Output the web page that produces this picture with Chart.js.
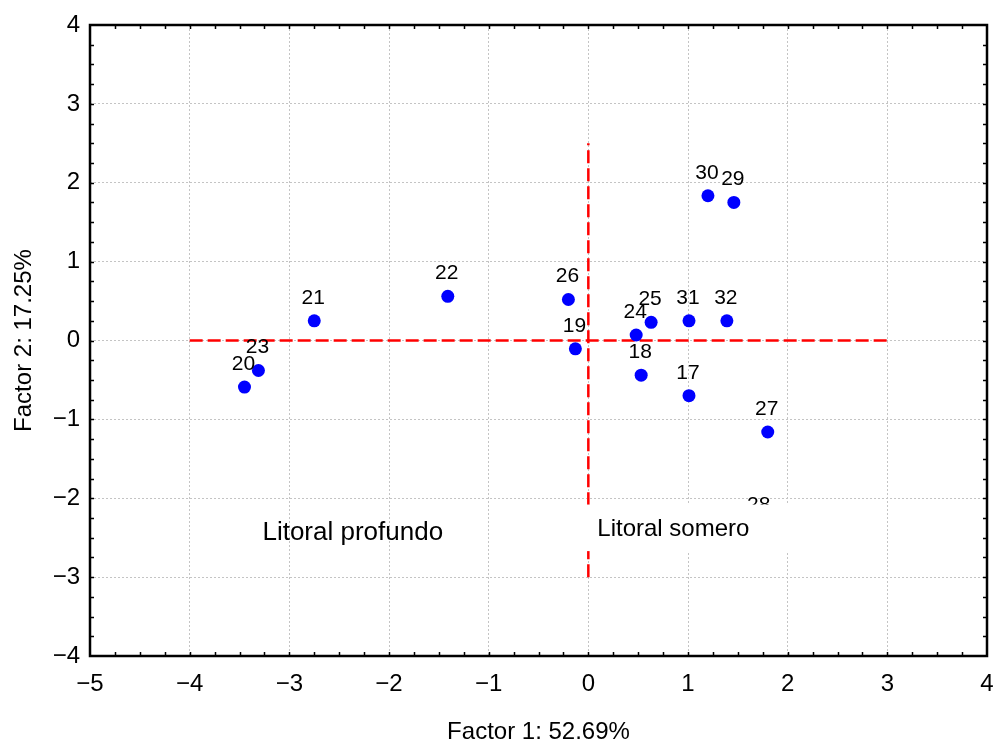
<!DOCTYPE html>
<html><head><meta charset="utf-8">
<script src="https://cdn.jsdelivr.net/npm/chart.js@4.4.1/dist/chart.umd.min.js"></script>
<style>html,body{margin:0;padding:0;background:#fff}#wrap{width:996px;height:744px;position:relative}</style>
</head><body><div id="wrap"><canvas id="c" width="996" height="744"></canvas></div>
<script>
// ---- data ----
const pointLabels = ['17','18','19','20','21','22','23','24','25','26','27','28','29','30','31','32'];
const factor1 = [1.01, 0.53, -0.13, -3.45, -2.75, -1.41, -3.31, 0.48, 0.63, -0.20, 1.80, 1.72, 1.46, 1.20, 1.01, 1.39];
const factor2 = [-0.70, -0.44, -0.105, -0.59, 0.25, 0.56, -0.38, 0.07, 0.23, 0.52, -1.16, -2.38, 1.75, 1.835, 0.25, 0.25];
const xTickValues = [-5, -4, -3, -2, -1, 0, 1, 2, 3, 4];
const xTickLabels = ['−5', '−4', '−3', '−2', '−1', '0', '1', '2', '3', '4'];
const yTickValues = [-4, -3, -2, -1, 0, 1, 2, 3, 4];
const yTickLabels = ['−4', '−3', '−2', '−1', '0', '1', '2', '3', '4'];
const hLineX = [-4, 3];
const hLineY = [0, 0];
const vLineX = [0, 0];
const vLineY = [-3, 2.5];
const xTitle = 'Factor 1: 52.69%';
const yTitle = 'Factor 2: 17.25%';
const regionNames = ['Litoral profundo', 'Litoral somero'];

// ---- styling / annotation config ----
const FONT = "'Liberation Sans', Arial, sans-serif";
const annot = {
  profundo: {x: -3.27, y: -2.53, size: 26},
  somero: {x: 0.09, y: -2.48, size: 24, box: {x1: -0.06, x2: 2.07, y1: -2.08, y2: -2.67}}
};

const pts = factor1.map((x, i) => ({x: x, y: factor2[i]}));
const hLine = hLineX.map((x, i) => ({x: x, y: hLineY[i]}));
const vLine = vLineX.map((x, i) => ({x: x, y: vLineY[i]}));

const overlayPlugin = {
  id: 'overlay',
  afterDatasetsDraw(chart) {
    const ctx = chart.ctx, xs = chart.scales.x, ys = chart.scales.y;
    const meta = chart.getDatasetMeta(0);
    ctx.save();
    ctx.fillStyle = '#000';
    ctx.font = '21px ' + FONT;
    ctx.textAlign = 'center';
    ctx.textBaseline = 'alphabetic';
    meta.data.forEach((el, i) => {
      ctx.fillText(pointLabels[i], el.x - 1, el.y - 17);
    });
    ctx.textAlign = 'left';
    ctx.font = annot.profundo.size + 'px ' + FONT;
    ctx.fillText(regionNames[0], xs.getPixelForValue(annot.profundo.x), ys.getPixelForValue(annot.profundo.y));
    const b = annot.somero.box;
    const bx1 = xs.getPixelForValue(b.x1), bx2 = xs.getPixelForValue(b.x2);
    const by1 = ys.getPixelForValue(b.y1), by2 = ys.getPixelForValue(b.y2);
    ctx.fillStyle = '#fff';
    ctx.fillRect(bx1, by1, bx2 - bx1, by2 - by1);
    ctx.fillStyle = '#000';
    ctx.font = annot.somero.size + 'px ' + FONT;
    ctx.fillText(regionNames[1], xs.getPixelForValue(annot.somero.x), ys.getPixelForValue(annot.somero.y));
    ctx.restore();
  },
  afterDraw(chart) {
    const ctx = chart.ctx, a = chart.chartArea, xs = chart.scales.x, ys = chart.scales.y;
    ctx.save();
    ctx.strokeStyle = '#000';
    ctx.lineWidth = 1.5;
    ctx.beginPath();
    for (let v = xs.min + 0.25; v < xs.max - 0.01; v += 0.25) {
      const px = Math.round(xs.getPixelForValue(v)) + 0.5;
      ctx.moveTo(px, a.top); ctx.lineTo(px, a.top + 4);
      ctx.moveTo(px, a.bottom); ctx.lineTo(px, a.bottom - 4);
    }
    for (let v = ys.min + 0.25; v < ys.max - 0.01; v += 0.25) {
      const py = Math.round(ys.getPixelForValue(v)) + 0.5;
      ctx.moveTo(a.left, py); ctx.lineTo(a.left + 4, py);
      ctx.moveTo(a.right, py); ctx.lineTo(a.right - 4, py);
    }
    ctx.stroke();
    ctx.lineWidth = 2.5;
    ctx.strokeRect(a.left, a.top, a.right - a.left, a.bottom - a.top);
    ctx.restore();
  }
};

function gridColor(ctx) {
  const s = ctx.scale;
  if (ctx.tick && (ctx.tick.value === s.min || ctx.tick.value === s.max)) return 'rgba(0,0,0,0)';
  return '#c4c4c4';
}

new Chart(document.getElementById('c'), {
  type: 'scatter',
  data: {
    datasets: [
      {label: 'obs', data: pts, pointRadius: 6.5, pointHoverRadius: 6.5, backgroundColor: '#0000ff', borderWidth: 0, pointBorderWidth: 0},
      {label: 'h', type: 'line', data: hLine, showLine: true, borderColor: '#ff0000', borderWidth: 2.5, borderDash: [13, 5], pointRadius: 0, fill: false},
      {label: 'v', type: 'line', data: vLine, showLine: true, borderColor: '#ff0000', borderWidth: 2.5, borderDash: [13, 5], pointRadius: 0, fill: false}
    ]
  },
  options: {
    responsive: false,
    animation: false,
    events: [],
    layout: {padding: {top: 25, right: 9, left: 0, bottom: 0}},
    plugins: {legend: {display: false}, tooltip: {enabled: false}},
    scales: {
      x: {
        type: 'linear', min: -5, max: 4,
        afterBuildTicks: s => { s.ticks = xTickValues.map(v => ({value: v})); },
        afterFit: s => { s.height = 88; s.paddingLeft = 0; s.paddingRight = 0; },
        ticks: {callback: (v, i) => xTickLabels[i], color: '#000', font: {family: FONT, size: 24}, padding: 14, maxRotation: 0, autoSkip: false},
        grid: {color: gridColor, lineWidth: 1, drawTicks: false},
        border: {display: false, dash: [2, 2]},
        title: {display: true, text: xTitle, color: '#000', font: {family: FONT, size: 24, lineHeight: 1}, padding: {top: 0, bottom: 0}}
      },
      y: {
        type: 'linear', min: -4, max: 4,
        afterBuildTicks: s => { s.ticks = yTickValues.map(v => ({value: v})); },
        afterFit: s => { s.width = 90; s.paddingTop = 0; s.paddingBottom = 0; },
        ticks: {callback: (v, i) => yTickLabels[i], color: '#000', font: {family: FONT, size: 24}, padding: 10, autoSkip: false},
        grid: {color: gridColor, lineWidth: 1, drawTicks: false},
        border: {display: false, dash: [2, 2]},
        title: {display: true, text: yTitle, color: '#000', font: {family: FONT, size: 24, lineHeight: 1}, padding: {top: 12, bottom: 0}}
      }
    }
  },
  plugins: [overlayPlugin]
});
</script>
</body></html>
